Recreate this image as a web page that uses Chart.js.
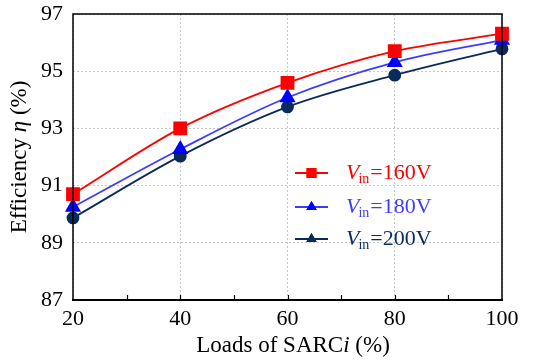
<!DOCTYPE html>
<html><head><meta charset="utf-8">
<script src="https://cdn.jsdelivr.net/npm/chart.js@4"></script>
<style>html,body{margin:0;padding:0;background:#fff}</style>
</head><body>
<canvas id="c" width="534" height="362"></canvas>
<script>
const loads = [20, 40, 60, 80, 100];
const eff160 = [90.70, 93.00, 94.59, 95.70, 96.31];
const eff180 = [90.25, 92.27, 94.08, 95.31, 96.09];
const eff200 = [89.87, 92.03, 93.75, 94.86, 95.78];
const xTickValues = [20, 40, 60, 80, 100];
const yTickValues = [87, 89, 91, 93, 95, 97];
const minorXTicks = [30, 40, 50, 60, 70, 80, 90];
const legendLabels = ['160V', '180V', '200V'];
const xTitle = ['Loads of SARC', 'i', ' (%)'];
const yTitle = ['Efficiency ', 'η', ' (%)'];

const FONT = '"Liberation Serif", "Times New Roman", serif';
const RED = '#ff0000', BLUE = '#3c3cff', BLUEM = '#0000ff', NAVY = '#0b2a5c';

const pts = (ys) => loads.map((x, i) => ({x, y: ys[i]}));

function richWidth(ctx, parts, size) {
  let w = 0;
  parts.forEach((p, i) => {
    ctx.font = (i === 1 ? 'italic ' : '') + size + 'px ' + FONT;
    w += ctx.measureText(p).width;
  });
  return w;
}
function drawRich(ctx, parts, x, y, size, color) {
  ctx.fillStyle = color;
  ctx.textBaseline = 'middle';
  ctx.textAlign = 'left';
  parts.forEach((p, i) => {
    ctx.font = (i === 1 ? 'italic ' : '') + size + 'px ' + FONT;
    ctx.fillText(p, x, y);
    x += ctx.measureText(p).width;
  });
}

const extras = {
  id: 'extras',
  afterDraw(chart) {
    const ctx = chart.ctx, a = chart.chartArea;
    const xs = chart.scales.x;
    ctx.save();
    // frame
    ctx.strokeStyle = '#000';
    ctx.lineWidth = 1.5;
    ctx.strokeRect(a.left, a.top, a.right - a.left, a.bottom - a.top);
    ctx.lineWidth = 2;
    ctx.beginPath(); ctx.moveTo(a.left - 1, a.bottom); ctx.lineTo(a.right + 1, a.bottom); ctx.stroke();
    // minor inward ticks
    ctx.lineWidth = 1.2;
    minorXTicks.forEach(v => {
      const px = Math.round(xs.getPixelForValue(v)) + 0.5;
      ctx.beginPath(); ctx.moveTo(px, a.bottom); ctx.lineTo(px, a.bottom - 5); ctx.stroke();
    });
    // x title
    const size = 23;
    const wx = richWidth(ctx, xTitle, size);
    drawRich(ctx, xTitle, 293 - wx / 2, 346, size, '#000');
    // y title
    ctx.save();
    ctx.translate(20, 157);
    ctx.rotate(-Math.PI / 2);
    const wy = richWidth(ctx, yTitle, size);
    drawRich(ctx, yTitle, -wy / 2, 0, size, '#000');
    ctx.restore();
    // legend
    const items = [
      {c: RED, tc: RED, mc: RED, style: 'rect', r: 7, y: 173},
      {c: BLUE, tc: BLUE, mc: BLUEM, style: 'triangle', r: 6, y: 207},
      {c: NAVY, tc: NAVY, mc: NAVY, style: 'triangle', r: 6, y: 239}
    ];
    items.forEach((it, i) => {
      ctx.strokeStyle = it.c; ctx.lineWidth = 2;
      ctx.beginPath(); ctx.moveTo(295, it.y); ctx.lineTo(328, it.y); ctx.stroke();
      ctx.fillStyle = it.mc;
      Chart.helpers.drawPoint(ctx, {pointStyle: it.style, radius: it.r, borderWidth: 0}, 311.5, it.y);
      ctx.fill();
      let x = 346;
      ctx.fillStyle = it.tc; ctx.textBaseline = 'middle'; ctx.textAlign = 'left';
      ctx.font = 'italic 22px ' + FONT;
      ctx.fillText('V', x, it.y); x += ctx.measureText('V').width - 1;
      ctx.font = '14px ' + FONT;
      ctx.fillText('in', x, it.y + 6); x += ctx.measureText('in').width + 1;
      ctx.font = '22px ' + FONT;
      ctx.fillText('=' + legendLabels[i], x, it.y);
    });
    ctx.restore();
  }
};

new Chart(document.getElementById('c'), {
  type: 'line',
  data: {
    datasets: [
      {data: pts(eff160), borderColor: RED, backgroundColor: RED, pointStyle: 'rect', pointRadius: 8.5, borderWidth: 1.8, clip: false},
      {data: pts(eff180), borderColor: BLUE, backgroundColor: BLUEM, pointBorderColor: BLUEM, pointStyle: 'triangle', pointRadius: 7.5, borderWidth: 1.8, clip: false},
      {data: pts(eff200), borderColor: NAVY, backgroundColor: NAVY, pointStyle: 'circle', pointRadius: 5.5, borderWidth: 1.8, clip: false}
    ]
  },
  options: {
    responsive: false,
    animation: false,
    layout: {padding: {top: 14, right: 32, left: 0, bottom: 0}},
    elements: {line: {cubicInterpolationMode: 'monotone'}, point: {borderWidth: 0, hoverRadius: 8}},
    plugins: {legend: {display: false}, tooltip: {enabled: false}},
    scales: {
      x: {
        type: 'linear', min: 20, max: 100,
        afterBuildTicks: s => { s.ticks = xTickValues.map(v => ({value: v})); },
        afterFit: s => { s.height = 62; s.paddingLeft = 0; s.paddingRight = 0; },
        grid: {color: '#c8c8c8', lineWidth: 1, drawTicks: false},
        border: {display: false, dash: [2, 2]},
        ticks: {color: '#000', font: {family: FONT, size: 22}, padding: 6, maxRotation: 0}
      },
      y: {
        min: 87, max: 97,
        afterBuildTicks: s => { s.ticks = yTickValues.map(v => ({value: v})); },
        afterFit: s => { s.width = 73; s.paddingTop = 0; s.paddingBottom = 0; },
        grid: {color: '#c8c8c8', lineWidth: 1, drawTicks: false},
        border: {display: false, dash: [2, 2]},
        ticks: {color: '#000', font: {family: FONT, size: 22}, padding: 10}
      }
    }
  },
  plugins: [extras]
});
</script>
</body></html>
